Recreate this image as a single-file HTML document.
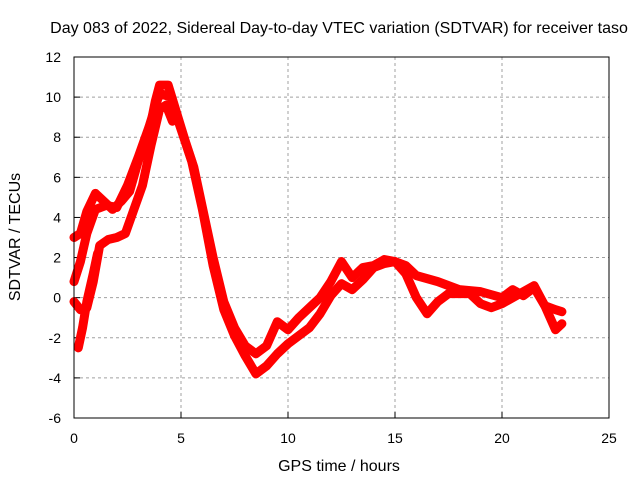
<!DOCTYPE html>
<html><head><meta charset="utf-8"><style>
body{margin:0;background:#fff}
svg{display:block;font-family:"Liberation Sans",sans-serif}
</style></head><body>
<svg id="chart" width="640" height="480" viewBox="0 0 640 480">
<text x="339" y="33" font-size="16" text-anchor="middle">Day 083 of 2022, Sidereal Day-to-day VTEC variation (SDTVAR) for receiver taso</text>
<text x="339" y="471" font-size="16" text-anchor="middle">GPS time / hours</text>
<text transform="translate(20,237) rotate(-90)" font-size="16" text-anchor="middle">SDTVAR / TECUs</text>
<g id="grid"></g><g id="ticks"></g><g id="series"></g>
<rect x="74" y="57" width="535" height="361" fill="none" stroke="#000" stroke-width="1"/>
</svg>
<script>
const xTicks=[0,5,10,15,20,25];
const yTicks=[-6,-4,-2,0,2,4,6,8,10,12];
const traceA=[[0,3],[0.3,3.2],[0.6,4.3],[1.0,5.2],[1.4,4.8],[1.8,4.4],[2.2,4.8],[2.6,5.3],[3.0,6.8],[3.5,8.2],[3.8,9.8],[4.0,10.6],[4.4,10.6],[4.8,9.2],[5.2,7.8],[5.6,6.5],[6.0,4.5],[6.5,2.0],[7.0,-0.2],[7.5,-1.5],[8.0,-2.4],[8.5,-2.8],[9.0,-2.4],[9.5,-1.2],[10,-1.6],[10.5,-1.0],[11,-0.5],[11.5,0],[12,0.8],[12.5,1.8],[13,1.0],[13.5,1.5],[14,1.6],[14.5,1.9],[15,1.8],[15.5,1.6],[16,1.1],[17,0.8],[18,0.4],[19,0.3],[20,0.0],[20.5,0.4],[21,0.1],[21.5,0.5],[22,-0.4],[22.5,-0.6],[22.8,-0.7]];
const traceB=[[0,0.8],[0.3,1.8],[0.6,3.2],[1.0,4.4],[1.5,4.6],[2.0,4.5],[2.5,5.6],[3.0,7.0],[3.5,8.5],[4.0,10.2],[4.5,10.0],[5.0,8.4],[5.5,6.8],[6.0,4.4],[6.5,1.6],[7.0,-0.6],[7.5,-1.9],[8.0,-2.9],[8.5,-3.8],[9.0,-3.4],[9.5,-2.8],[10,-2.3],[11,-1.5],[11.5,-0.8],[12,0.1],[12.5,0.7],[13,0.4],[13.5,0.9],[14,1.5],[14.5,1.7],[15,1.8],[15.5,1.2],[16,0.0],[16.5,-0.8],[17,-0.2],[17.5,0.2],[18.5,0.2],[19,-0.3],[19.5,-0.5],[20,-0.3],[20.5,0.0],[21,0.3],[21.5,0.6],[22,-0.4],[22.5,-1.6],[22.8,-1.3]];
const traceC=[[0,-0.2],[0.3,-0.6],[0.6,-0.5],[0.9,0.8],[1.2,2.6],[1.6,2.9],[2.0,3.0],[2.4,3.2],[2.8,4.4],[3.2,5.6],[3.6,7.6],[4.0,9.4],[4.3,9.6],[4.6,8.8]];
const traceD=[[0.2,-2.5],[0.4,-1.5],[0.6,-0.2],[0.9,1.2],[1.1,2.2]];
const traces=[traceA,traceB,traceC,traceD];
const NS="http://www.w3.org/2000/svg";
const X0=74,X1=609,Y0=418,Y1=57;
const sx=v=>X0+(v-0)/(25-0)*(X1-X0);
const sy=v=>Y0-(v+6)/(12+6)*(Y0-Y1);
const grid=document.getElementById('grid'),ticks=document.getElementById('ticks'),ser=document.getElementById('series');
function mk(tag,attrs,parent){const e=document.createElementNS(NS,tag);for(const k in attrs)e.setAttribute(k,attrs[k]);parent.appendChild(e);return e;}
xTicks.forEach(t=>{
  const x=sx(t);
  if(t>0&&t<25){const g=mk('line',{x1:x,x2:x,y1:Y1,y2:Y0,stroke:'#a0a0a0','stroke-dasharray':'3,3'},grid);
  
  }
  const l=mk('text',{x:x,y:443,'font-size':14,'text-anchor':'middle'},ticks);l.textContent=t;
  
  
  mk('line',{x1:x,x2:x,y1:Y0,y2:Y0-6,stroke:'#000'},ticks);
});
yTicks.forEach(t=>{
  const y=sy(t);
  if(t>-6&&t<12){const g=mk('line',{x1:X0,x2:X1,y1:y,y2:y,stroke:'#a0a0a0','stroke-dasharray':'3,3'},grid);
  
  }
  const l=mk('text',{x:61,y:y+5,'font-size':14,'text-anchor':'end'},ticks);l.textContent=t;
  
  
  mk('line',{x1:X0,x2:X0+6,y1:y,y2:y,stroke:'#000'},ticks);
});
traces.forEach((tr,i)=>{
  const p=mk('polyline',{points:tr.map(d=>sx(d[0])+','+sy(d[1])).join(' '),fill:'none',stroke:'#ff0000','stroke-width':9,'stroke-linejoin':'round','stroke-linecap':'round'},ser);
  
  
});
</script>
</body></html>
